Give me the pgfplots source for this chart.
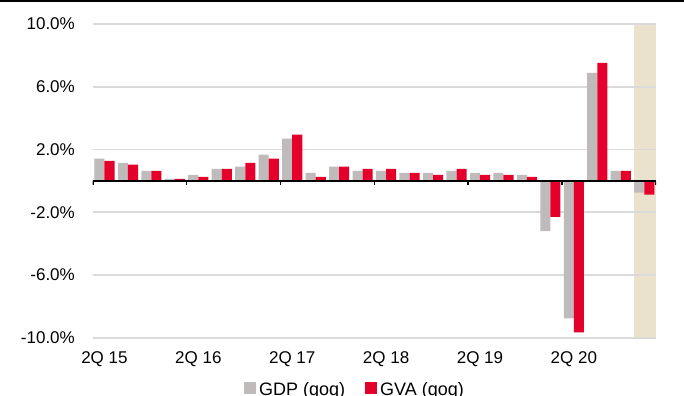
\documentclass[border=0pt]{standalone}
\usepackage{pgfplots}
\pgfplotsset{compat=1.18}
\usepackage{pgfplotstable}
\usepackage{fontspec}
\setmainfont{Liberation Sans}

\definecolor{gdpgray}{HTML}{BFBBBA}
\definecolor{gvared}{HTML}{E4002B}
\definecolor{fcastbg}{HTML}{EAE2CC}
\definecolor{gridgray}{HTML}{DADADA}

% Quarter-on-quarter growth, %, 2Q15 .. 1Q21
\pgfplotstableread{
idx gdp   gva
0   1.41  1.28
1   1.15  1.03
2   0.64  0.64
3   0.13  0.13
4   0.38  0.26
5   0.77  0.77
6   0.90  1.15
7   1.67  1.41
8   2.69  2.95
9   0.51  0.26
10  0.90  0.90
11  0.64  0.77
12  0.64  0.77
13  0.51  0.51
14  0.51  0.38
15  0.64  0.77
16  0.51  0.38
17  0.51  0.38
18  0.38  0.26
19  -3.20 -2.29
20  -8.76 -9.66
21  6.88  7.52
22  0.64  0.64
23  -0.75 -0.88
}\growth

\begin{document}
\begin{tikzpicture}[font=\fontsize{17bp}{20bp}\selectfont]
\begin{axis}[
  set layers,
  scale only axis,
  width=563.3bp, height=313.7bp,
  at={(92.7bp,-337.7bp)}, anchor=south west,
  xmin=-0.5, xmax=23.5, ymin=-10, ymax=10,
  axis line style={draw=none},
  ytick={-10,-6,-2,2,6,10},
  yticklabels={-10.0\%,-6.0\%,-2.0\%,2.0\%,6.0\%,10.0\%},
  xtick={0,4,8,12,16,20},
  xticklabels={2Q 15,2Q 16,2Q 17,2Q 18,2Q 19,2Q 20},
  major tick length=0pt,
  ymajorgrids,
  grid style={gridgray, line width=1.6bp},
  yticklabel style={anchor=east, inner sep=0pt, xshift=-17.7bp},
  xticklabel style={anchor=north, inner sep=0pt, yshift=-14bp},
  legend columns=2,
  legend cell align=left,
  legend image code/.code={\fill[#1] (0bp,1bp) rectangle (12bp,13bp);},
  legend style={draw=none, fill=none, inner sep=0pt,
    at={(0.2685,-0.1405)}, anchor=north west,
    font=\fontsize{18bp}{21bp}\selectfont,
    nodes={inner sep=0pt},
    cells={anchor=base west},
    /tikz/every odd column/.append style={column sep=3bp},
    /tikz/every even column/.append style={column sep=20bp}},
]
% forecast quarter band, behind the grid
\addplot[fill=fcastbg, draw=none, on layer=axis background, forget plot]
  coordinates {(22.56,-10) (23.5,-10) (23.5,10) (22.56,10)} -- cycle;
\addplot[ybar, bar width=0.43, bar shift=-0.215, fill=gdpgray, draw=none]
  table[x=idx, y=gdp] {\growth};
\addlegendentry{GDP (qoq)}
\addplot[ybar, bar width=0.43, bar shift=0.215, fill=gvared, draw=none]
  table[x=idx, y=gva] {\growth};
\addlegendentry{GVA (qoq)}
% zero line with quarter-group separators every four quarters
\draw[black, line width=2.2bp] (axis cs:-0.5,0) -- (axis cs:23.5,0);
\pgfplotsinvokeforeach{-0.5,3.5,7.5,11.5,15.5,19.5,23.5}{
  \draw[black, line width=1.6bp] (axis cs:#1,0) -- ([yshift=-4.5bp]axis cs:#1,0);
}
\end{axis}
% page frame: top rule and fixed page size
\draw[line width=2bp] (0,-1bp) -- (684bp,-1bp);
\pgfresetboundingbox
\useasboundingbox (0,0) rectangle (684bp,-396bp);
\end{tikzpicture}
\end{document}
